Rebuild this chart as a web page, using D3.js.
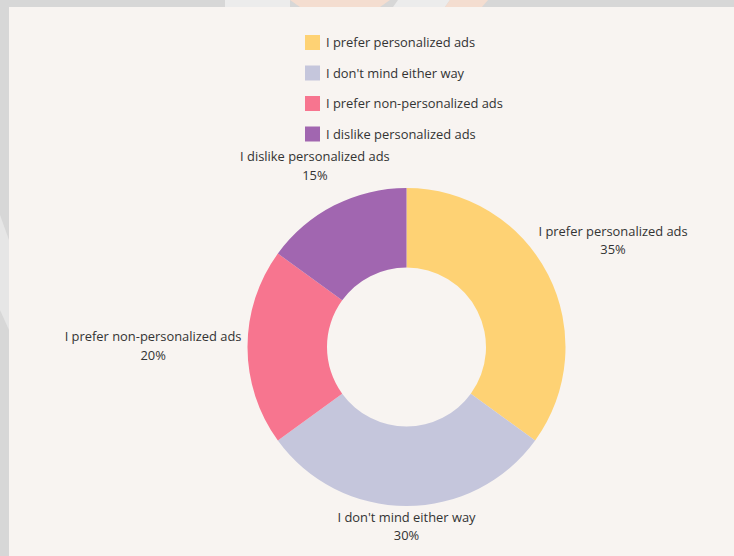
<!DOCTYPE html>
<html>
<head>
<meta charset="utf-8">
<script src="https://cdn.jsdelivr.net/npm/d3@7"></script>
<style>
  html, body { margin: 0; padding: 0; background: #d7d7d7; }
  svg { display: block; }
  text { font-family: "Open Sans", Lato, sans-serif; fill: #333; }
</style>
</head>
<body>
<svg id="chart" width="734" height="556"></svg>
<script>
// Survey answers and their shares (percent)
const categories = [
  "I prefer personalized ads",
  "I don't mind either way",
  "I prefer non-personalized ads",
  "I dislike personalized ads"
];
const values = [35, 30, 20, 15];
const colors = ["#fed274", "#c5c6dc", "#f7758f", "#a166b0"];

const W = 734, H = 556;
const svg = d3.select("#chart");

// outer frame with faint backdrop shapes
svg.append("rect").attr("width", W).attr("height", H).attr("fill", "#d7d7d7");
const deco = svg.append("g");
deco.append("path").attr("d", "M0,215 L9,240 L9,330 L0,310 Z").attr("fill", "#e6e6e6");
deco.append("path").attr("d", "M225,0 L290,0 L290,7 L225,7 Z").attr("fill", "#ececec");
deco.append("path").attr("d", "M290,0 L390,0 L380,7 L300,7 Z").attr("fill", "#f4ddd0");
deco.append("path").attr("d", "M398,0 L450,0 L445,7 L393,7 Z").attr("fill", "#ececec");
deco.append("path").attr("d", "M450,0 L488,0 L482,7 L445,7 Z").attr("fill", "#f4ddd0");

// card
svg.append("rect").attr("x", 9).attr("y", 7).attr("width", W - 9).attr("height", H - 7)
  .attr("fill", "#f8f4f1");

const cx = 406.5, cy = 347;
const outerR = 159, innerR = 79.5;
const fontSize = 12.9;

const pie = d3.pie().value(d => d.value).sort(null);
const arcs = pie(categories.map((c, i) => ({ name: c, value: values[i], color: colors[i] })));
const arc = d3.arc().innerRadius(innerR).outerRadius(outerR);

const g = svg.append("g").attr("transform", `translate(${cx},${cy})`);
g.selectAll("path.slice").data(arcs).join("path")
  .attr("class", "slice")
  .attr("d", arc)
  .attr("fill", d => d.data.color);

// slice labels: two lines, placed just outside the ring along the slice's mid-angle
const labelR = 165, lineGap = 18.5;
arcs.forEach(d => {
  const mid = (d.startAngle + d.endAngle) / 2;
  const t = g.append("text").attr("text-anchor", "middle").attr("font-size", fontSize);
  const l1 = t.append("tspan").attr("x", 0).attr("y", 0).text(d.data.name);
  const l2 = t.append("tspan").attr("x", 0).attr("y", lineGap).text(d.data.value + "%");
  const w = t.node().getBBox().width;
  const h = lineGap + fontSize;
  const s = Math.sin(mid), c = -Math.cos(mid);
  const ext = Math.hypot(s * w / 2, c * h / 2);
  const dist = labelR + ext;
  const px = s * dist, py = c * dist;
  // vertically centre the two lines on (px, py)
  const top = py - h / 2 + fontSize * 0.76;
  l1.attr("x", px).attr("y", top);
  l2.attr("x", px).attr("y", top + lineGap);
});

// legend
const legend = svg.append("g").attr("transform", "translate(305,35)");
const rowH = 30.5;
const items = legend.selectAll("g").data(categories).join("g")
  .attr("transform", (d, i) => `translate(0,${i * rowH})`);
items.append("rect").attr("width", 15).attr("height", 15).attr("fill", (d, i) => colors[i]);
items.append("text").attr("x", 21).attr("y", 12).attr("font-size", fontSize).text(d => d);
</script>
</body>
</html>
